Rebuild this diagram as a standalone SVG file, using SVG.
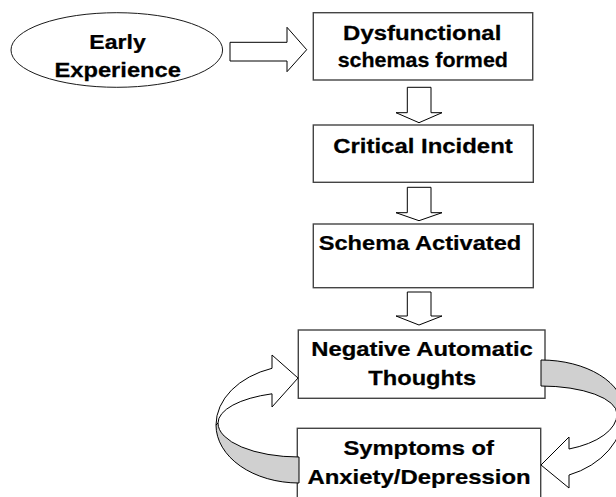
<svg xmlns="http://www.w3.org/2000/svg" width="616" height="497" viewBox="0 0 616 497">
  <style>
    .box { fill: #ffffff; stroke: #444444; stroke-width: 1.4; }
    .lbl { font-family: "Liberation Sans", Arial, Helvetica, sans-serif; font-weight: bold; font-size: 21px; fill: #000000; stroke: #000000; stroke-width: 0.25; text-anchor: middle; }
    .blk { fill: #ffffff; stroke: #000000; stroke-width: 1; stroke-linejoin: miter; }
    .back { fill: #d0d0d0; stroke: #000000; stroke-width: 1; stroke-linejoin: miter; }
  </style>
  <rect width="616" height="497" fill="#ffffff"/>

  <!-- nodes (labels are widened slightly with a horizontal scale) -->
  <g id="early-experience">
    <ellipse cx="116.8" cy="50" rx="105.8" ry="37.3" fill="#ffffff" stroke="#1a1a1a" stroke-width="1"/>
    <text class="lbl" transform="translate(117.5,48.5) scale(1.1,1)">Early</text>
    <text class="lbl" transform="translate(117.7,76.5) scale(1.13,1)">Experience</text>
  </g>

  <g id="dysfunctional-schemas">
    <rect class="box" x="313.3" y="12.7" width="219.4" height="67.3"/>
    <text class="lbl" transform="translate(422.2,39.5) scale(1.14,1)">Dysfunctional</text>
    <text class="lbl" transform="translate(422.8,66.5) scale(1.02,1)">schemas formed</text>
  </g>

  <g id="critical-incident">
    <rect class="box" x="313.3" y="125" width="220" height="57.3"/>
    <text class="lbl" transform="translate(423,152.7) scale(1.14,1)">Critical Incident</text>
  </g>

  <g id="schema-activated">
    <rect class="box" x="313.3" y="224" width="220" height="63.7"/>
    <text class="lbl" transform="translate(420,250) scale(1.125,1)">Schema Activated</text>
  </g>

  <g id="negative-automatic-thoughts">
    <rect class="box" x="298.3" y="330" width="246.7" height="68.3"/>
    <text class="lbl" transform="translate(422,356) scale(1.135,1)">Negative Automatic</text>
    <text class="lbl" transform="translate(422.2,385) scale(1.126,1)">Thoughts</text>
  </g>

  <g id="symptoms">
    <rect class="box" x="297.3" y="428.3" width="243.4" height="80"/>
    <text class="lbl" transform="translate(418.7,455) scale(1.133,1)">Symptoms of</text>
    <text class="lbl" transform="translate(419,483.5) scale(1.139,1)">Anxiety/Depression</text>
  </g>

  <!-- connectors -->
  <g id="connectors">
    <!-- block arrow: experience to schemas -->
    <path class="blk" d="M230,42.3 L287,42.3 L287,27.3 L306.7,49.7 L287,71.7 L287,61 L230,61 Z"/>
    <!-- downward block arrows -->
    <path class="blk" d="M407.3,87.3 L431,87.3 L431,112.7 L442,112.7 L419,122.7 L396,112.7 L407.3,112.7 Z"/>
    <path class="blk" d="M407.3,187.3 L431,187.3 L431,212.7 L442,212.7 L419,220.7 L396,212.7 L407.3,212.7 Z"/>
    <path class="blk" d="M407.3,292 L431,292 L431,316 L442,316 L419,325 L396,316 L407.3,316 Z"/>

    <!-- curved arrow: thoughts to symptoms (right side) -->
    <path class="back" d="M541,360 A83,51 0 0 1 624,411 L617,414 A76,28 0 0 0 541,386 Z"/>
    <path class="blk" d="M541,465 L569,437 L569,449 A76,37.6 0 0 0 617,414 L624,411 A83,68 0 0 1 569,475 L569,488 Z"/>

    <!-- curved arrow: symptoms to thoughts (left side) -->
    <path class="back" d="M299,483 A83,58 0 0 1 216,425 L218,423 A81,34 0 0 0 299,457 Z"/>
    <path class="blk" d="M298,378 L272,355 L272,368.3 A83,60 0 0 0 216,425 L218,423 A81,31 0 0 1 272,393.8 L272,407 Z"/>
  </g>
</svg>
